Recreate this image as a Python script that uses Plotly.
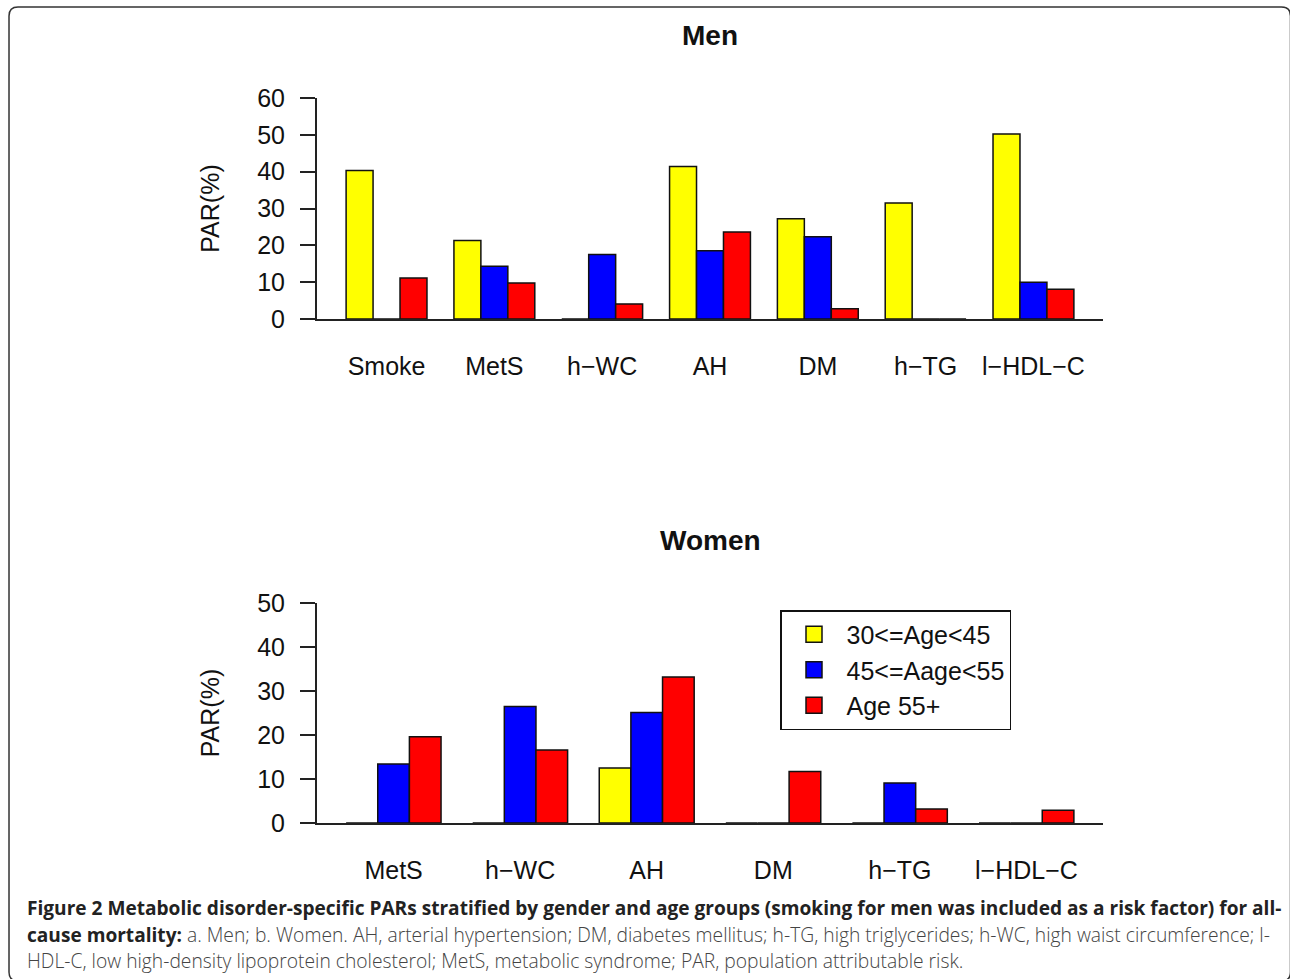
import plotly.graph_objects as go

# ---------------- data ----------------
men_categories = ["Smoke", "MetS", "h\u2212WC", "AH", "DM", "h\u2212TG", "l\u2212HDL\u2212C"]
men_age_30_45 = [40.3, 21.3, 0.0, 41.4, 27.2, 31.5, 50.2]
men_age_45_55 = [0.0, 14.3, 17.5, 18.5, 22.3, 0.0, 10.0]
men_age_55p = [11.1, 9.8, 4.1, 23.6, 2.8, 0.0, 8.1]

women_categories = ["MetS", "h\u2212WC", "AH", "DM", "h\u2212TG", "l\u2212HDL\u2212C"]
women_age_30_45 = [0.0, 0.0, 12.5, 0.0, 0.0, 0.0]
women_age_45_55 = [13.4, 26.5, 25.1, 0.0, 9.1, 0.0]
women_age_55p = [19.6, 16.6, 33.2, 11.7, 3.2, 2.9]

series_names = ["30<=Age<45", "45<=Aage<55", "Age 55+"]
series_colors = ["#FFFF00", "#0000FF", "#FF0000"]

men_yticks = [0, 10, 20, 30, 40, 50, 60]
women_yticks = [0, 10, 20, 30, 40, 50]

panel_titles = ["Men", "Women"]
y_title = "PAR(%)"

BOLD = '<b><span style="font-size:19.1px;color:#222222">%s</span></b>'
caption_lines = [
    BOLD % "Figure 2 Metabolic disorder-specific PARs stratified by gender and age groups (smoking for men was included as a risk factor) for all-",
    BOLD % "cause mortality:" + " a. Men; b. Women. AH, arterial hypertension; DM, diabetes mellitus; h-TG, high triglycerides; h-WC, high waist circumference; l-",
    "HDL-C, low high-density lipoprotein cholesterol; MetS, metabolic syndrome; PAR, population attributable risk.",
]

# ---------------- layout helpers ----------------
W, H = 1290, 979
def px_x(x):
    return x / W
def px_y(y):
    return 1 - y / H

FONT = "Liberation Sans, Arial, Helvetica, sans-serif"
AX_COL = "#222222"

fig = go.Figure()

men_series = [men_age_30_45, men_age_45_55, men_age_55p]
women_series = [women_age_30_45, women_age_45_55, women_age_55p]

for name, col, vals in zip(series_names, series_colors, men_series):
    fig.add_trace(go.Bar(x=men_categories, y=vals, name=name, marker=dict(color=col, line=dict(color="#111111", width=1.5)),
                         xaxis="x", yaxis="y", showlegend=False))
for name, col, vals in zip(series_names, series_colors, women_series):
    fig.add_trace(go.Bar(x=women_categories, y=vals, name=name, marker=dict(color=col, line=dict(color="#111111", width=1.5)),
                         xaxis="x2", yaxis="y2", showlegend=False))
# legend entries (square swatches)
for name, col in zip(series_names, series_colors):
    fig.add_trace(go.Scatter(x=[None], y=[None], mode="markers", name=name,
                             marker=dict(symbol="square", size=16, color=col, line=dict(color="#111111", width=1.5)),
                             xaxis="x2", yaxis="y2", showlegend=True))

xdom = [px_x(317), px_x(1103)]

common_x = dict(type="category", showline=True, linecolor=AX_COL, linewidth=2, ticks="", showgrid=False,
                zeroline=False, tickfont=dict(family=FONT, size=25, color="#111111"), ticklabelstandoff=24,
                automargin=False, fixedrange=True)
common_y = dict(showline=True, linecolor=AX_COL, linewidth=2, ticks="outside", ticklen=15, tickwidth=2,
                tickcolor=AX_COL, showgrid=False, zeroline=False, tickmode="array",
                tickfont=dict(family=FONT, size=25, color="#111111"), ticklabelstandoff=10,
                automargin=False, fixedrange=True,
                title=dict(text=y_title, font=dict(family=FONT, size=25, color="#111111"), standoff=30))

fig.update_layout(
    width=W, height=H,
    margin=dict(l=0, r=0, t=0, b=0, autoexpand=False),
    paper_bgcolor="white", plot_bgcolor="white",
    barmode="group", bargap=0.25, bargroupgap=0,
    xaxis=dict(common_x, domain=xdom, anchor="y", range=[-0.645, len(men_categories) - 1 + 0.645]),
    yaxis=dict(common_y, domain=[px_y(319), px_y(98)], anchor="x", range=[0, 60], tickvals=men_yticks),
    xaxis2=dict(common_x, domain=xdom, anchor="y2", range=[-0.605, len(women_categories) - 1 + 0.605]),
    yaxis2=dict(common_y, domain=[px_y(823), px_y(603)], anchor="x2", range=[0, 50], tickvals=women_yticks),
    legend=dict(x=px_x(780), y=px_y(610), xanchor="left", yanchor="top",
                bordercolor="#111111", borderwidth=1.5, bgcolor="white",
                font=dict(family=FONT, size=25, color="#111111"),
                itemwidth=55, itemsizing="trace", traceorder="normal"),
    showlegend=True,
)

# panel titles
for t, yc in zip(panel_titles, [36, 540]):
    fig.add_annotation(text="<b>%s</b>" % t, x=(xdom[0] + xdom[1]) / 2, y=px_y(yc), xref="paper", yref="paper",
                       xanchor="center", yanchor="middle", showarrow=False,
                       font=dict(family=FONT, size=28, color="#111111"))

# caption
CAP_FONT = "Open Sans, Noto Sans, sans-serif"
for line, yc in zip(caption_lines, [908, 934, 960]):
    fig.add_annotation(text=line, x=px_x(25), y=px_y(yc), xref="paper", yref="paper",
                       xanchor="left", yanchor="middle", showarrow=False,
                       font=dict(family=CAP_FONT, size=19.25, color="#444444", weight=300))

# rounded frame
x0, y0, x1, y1, r = 9, 7, 1290.5, 981, 9
def P(x, y):
    return "%.5f,%.5f" % (px_x(x), px_y(y))
path = ("M " + P(x0 + r, y0) + " L " + P(x1 - r, y0) + " Q " + P(x1, y0) + " " + P(x1, y0 + r) +
        " L " + P(x1, y1 - r) + " Q " + P(x1, y1) + " " + P(x1 - r, y1) +
        " L " + P(x0 + r, y1) + " Q " + P(x0, y1) + " " + P(x0, y1 - r) +
        " L " + P(x0, y0 + r) + " Q " + P(x0, y0) + " " + P(x0 + r, y0) + " Z")
fig.add_shape(type="path", path=path, xref="paper", yref="paper", line=dict(color="#333333", width=1.5))

fig.write_html("out.html")
